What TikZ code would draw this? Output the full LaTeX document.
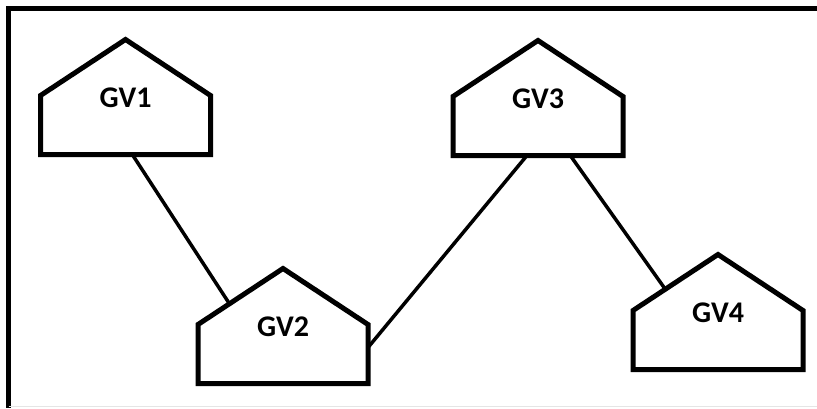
\documentclass[tikz,border=0pt]{standalone}
\usepackage{fontspec}
\setmainfont{Carlito}
\usetikzlibrary{calc,positioning}

\tikzset{
  house/.style={minimum width=170pt, minimum height=59pt, inner sep=0pt, outer sep=0pt,
    label={[anchor=center, yshift=-2pt, font=\fontsize{30}{31}\selectfont\bfseries]north:#1},
    append after command={
      (\tikzlastnode.south west) -- (\tikzlastnode.north west)
      -- ($(\tikzlastnode.north)+(0,56)$)
      -- (\tikzlastnode.north east) -- (\tikzlastnode.south east) -- cycle
      ($(\tikzlastnode.north)+(0,56)$) coordinate (\tikzlastnode-top)}},
  wall/.style={line width=5pt, line join=miter},
  link/.style={line width=3.5pt}
}

\begin{document}
\begin{tikzpicture}[x=1pt,y=1pt]
\useasboundingbox (0,0) rectangle (817,408);

% border
\draw[line width=5pt] (817,399.5) -- (8.5,399.5) -- (8.5,0);
\draw[gray!20, line width=1.5pt] (8.5,1.5) -- (817,1.5);

% houses
\draw[wall] (125.5,283) node[house=GV1] (gv1) {};
\draw[wall] (283,54) node[house=GV2] (gv2) {};
\draw[wall] (538,282) node[house=GV3] (gv3) {};
\draw[wall] (718,68) node[house=GV4] (gv4) {};

% links
\draw[link] ($(gv1.south west)!0.54!(gv1.south east)$) -- ($(gv2.north west)!0.37!(gv2-top)$);
\draw[link] ($(gv2.north east)!0.39!(gv2.south east)$) -- ($(gv3.south west)!0.435!(gv3.south east)$);
\draw[link] ($(gv3.south west)!0.69!(gv3.south east)$) -- ($(gv4.north west)!0.38!(gv4-top)$);

\end{tikzpicture}
\end{document}
